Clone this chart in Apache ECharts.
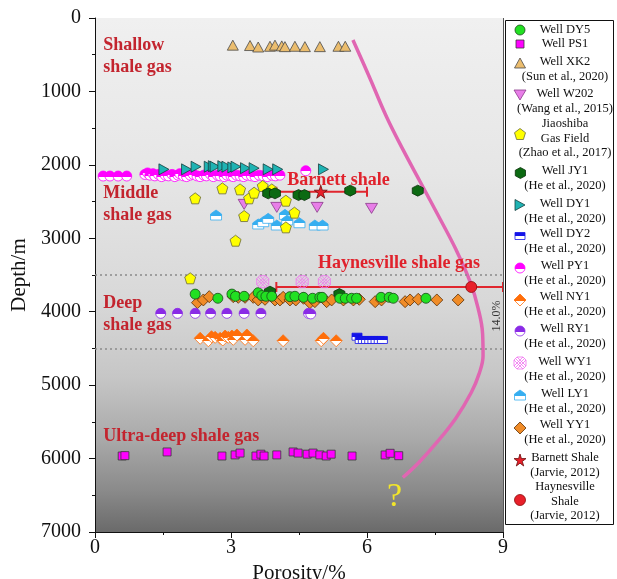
<!DOCTYPE html>
<html>
<head>
<meta charset="utf-8">
<script src="https://cdn.jsdelivr.net/npm/echarts@6.0.0/dist/echarts.min.js"></script>
<style>
  html, body { margin: 0; padding: 0; background: #ffffff; }
  #chart { width: 617px; height: 579px; }
</style>
</head>
<body>
<div id="chart"></div>
<script>
// ---- data: [porosity %, depth m] ----
const wellDY5 = [[2.21,3760],[2.71,3817],[3.02,3760],[3.10,3790],[3.29,3790],[3.60,3741],[3.68,3780],[3.77,3790],[3.90,3790],[4.30,3795],[4.41,3790],[4.60,3804],[4.80,3817],[4.96,3804],[5.01,3804],[5.40,3817],[5.52,3817],[5.66,3817],[5.77,3817],[6.31,3804],[6.49,3804],[6.58,3817],[7.30,3817]];
const wellPS1 = [[0.60,5965],[0.66,5960],[1.59,5910],[2.80,5965],[3.09,5950],[3.20,5925],[3.55,5965],[3.66,5940],[3.73,5965],[4.01,5950],[4.37,5910],[4.48,5925],[4.68,5940],[4.81,5925],[4.96,5950],[5.10,5965],[5.21,5940],[5.67,5965],[6.40,5951],[6.51,5928],[6.70,5961]];
const wellXK2 = [[3.04,370],[3.42,375],[3.60,395],[3.86,385],[3.97,370],[4.12,380],[4.19,390],[4.41,385],[4.63,390],[4.96,390],[5.37,385],[5.52,385]];
const wellW202 = [[3.29,2538],[4.01,2579],[4.90,2579],[6.10,2593]];
const jiaoshiba = [[2.21,2456],[2.81,2320],[3.20,2334],[3.40,2456],[3.51,2379],[3.70,2288],[3.90,2334],[4.21,2488],[4.40,2651],[3.29,2697],[4.21,2851],[3.10,3033],[2.10,3545]];
const wellJY1 = [[3.82,2388],[3.97,2388],[4.49,2411],[4.62,2411],[5.63,2351],[7.12,2351],[3.86,3727],[5.39,3760]];
const wellDY1 = [[1.52,2061],[2.02,2061],[2.23,2025],[2.52,2025],[2.61,2018],[2.65,2025],[2.82,2018],[2.91,2025],[3.04,2035],[3.11,2025],[3.32,2045],[3.51,2045],[3.82,2061],[4.03,2061],[5.04,2061]];
const wellDY2 = [[5.78,4340],[5.85,4385],[5.92,4385],[5.99,4385],[6.06,4385],[6.13,4385],[6.20,4385],[6.27,4385],[6.34,4385]];
const wellPY1 = [[0.18,2152],[0.33,2152],[0.51,2152],[0.70,2152],
  [1.10,2130],[1.16,2110],[1.21,2140],[1.28,2120],[1.32,2150],[1.40,2130],[1.47,2160],[1.55,2140],[1.62,2150],[1.70,2130],
  [1.76,2160],[1.83,2140],[1.87,2120],[1.95,2150],[2.02,2160],[2.10,2140],[2.17,2130],[2.25,2150],[2.32,2160],[2.40,2140],
  [2.46,2150],[2.55,2130],[2.61,2160],[2.70,2140],[2.76,2150],[2.85,2160],[2.91,2140],[3.00,2150],[3.05,2160],[3.12,2140],
  [3.20,2150],[3.28,2160],[3.35,2140],[3.45,2150],[3.53,2160],[3.62,2140],[3.71,2150],[3.80,2160],[3.90,2140],[3.98,2150],
  [4.08,2140],[4.65,2080]];
const wellNY1 = [[2.32,4362],[2.50,4395],[2.57,4340],[2.65,4349],[2.76,4362],[2.82,4385],[2.87,4331],[2.94,4349],[3.02,4331],[3.05,4376],[3.13,4317],[3.31,4376],[3.35,4317],[3.49,4395],[4.15,4395],[4.99,4395],[5.04,4362],[5.32,4395]];
const wellRY1 = [[1.45,4022],[1.82,4022],[2.21,4022],[2.55,4022],[2.91,4022],[3.29,4022],[3.66,4022],[4.71,4022],[4.76,4030]];
const wellWY1 = [[3.70,3591],[4.57,3591],[5.06,3591]];
const wellLY1 = [[2.67,2683],[3.60,2805],[3.71,2774],[3.82,2728],[4.01,2819],[4.19,2674],[4.24,2751],[4.51,2788],[4.85,2819],[5.02,2819]];
const wellYY1 = [[2.26,3877],[2.39,3840],[2.52,3795],[3.05,3795],[3.16,3804],[3.31,3804],[3.49,3804],[3.60,3840],[3.75,3831],[3.97,3840],[4.08,3840],[4.15,3804],[4.30,3840],[4.43,3840],[4.60,3817],[4.74,3877],[4.85,3863],[5.11,3863],[5.22,3840],[5.48,3840],[5.70,3840],[5.83,3831],[6.18,3863],[6.32,3840],[6.84,3863],[6.95,3840],[7.13,3831],[7.54,3840],[8.01,3840]];
// reference shales: [mean porosity, depth], with porosity range [low, high]
const barnettShale = [[4.98,2366]];
const barnettRange = [4.0, 6.0];
const haynesvilleShale = [[8.30,3663]];
const haynesvilleRange = [4.0, 14.0];
// porosity envelope with depth
const porosityTrend = [[5.69,300],[6.05,800],[6.43,1345],[6.80,1800],[7.19,2250],[7.58,2700],[7.96,3150],[8.28,3600],[8.45,3950],[8.55,4300],[8.56,4600],[8.47,4850],[8.30,5100],[7.96,5450],[7.54,5780],[7.15,6050],[6.79,6258]];
// depth boundaries between shale gas classes
const depthBoundaries = [3500, 4500];
const xTicks = [0, 9, 3];      // min, max, interval
const yTicks = [0, 7000, 1000];

const FONT = '"Liberation Serif","Times New Roman",serif';

// marker outlines as polygons in a small unit box
const SHAPE_PTS = {
  square:   [[0,0],[10,0],[10,10],[0,10]],
  triUp:    [[5,0],[10,9],[0,9]],
  triDown:  [[0,0],[10,0],[5,9]],
  triRight: [[0,0],[9,5],[0,10]],
  diamond:  [[5,0],[10,5],[5,10],[0,5]],
  pentagon: [[5,0],[10,3.63],[8.09,9.51],[1.91,9.51],[0,3.63]],
  hexagon:  [[5,0],[9.33,2.5],[9.33,7.5],[5,10],[0.67,7.5],[0.67,2.5]],
  house:    [[5,0],[10,4],[10,10],[0,10],[0,4]],
  star:     [[5,0],[6.18,3.62],[9.98,3.62],[6.9,5.86],[8.08,9.48],[5,7.24],[1.92,9.48],[3.1,5.86],[0.02,3.62],[3.82,3.62]],
  lattice:  [[3,0],[9,0],[12,3],[12,9],[9,12],[3,12],[0,9],[0,3]]
};
// hatch strokes inside the lattice marker
const LATTICE_LINES = [[[0,3],[9,12]],[[3,0],[12,9]],[[0,9],[9,0]],[[3,12],[12,3]],[[1.5,1.5],[10.5,10.5]],[[10.5,1.5],[1.5,10.5]]];

function symbolOf(shape) {
  if (shape === 'circle') return 'circle';
  let d = 'M' + SHAPE_PTS[shape].map(p => p.join(',')).join('L') + 'Z';
  if (shape === 'lattice') d += LATTICE_LINES.map(l => 'M' + l[0].join(',') + 'L' + l[1].join(',')).join('');
  return 'path://' + d;
}

// top coloured, bottom white
function halfFill(c) {
  return { type: 'linear', x: 0, y: 0, x2: 0, y2: 1,
    colorStops: [{offset: 0, color: c}, {offset: 0.55, color: c}, {offset: 0.55, color: '#ffffff'}, {offset: 1, color: '#ffffff'}] };
}

const WELLS = [
  {name: 'Well PS1',  data: wellPS1,  shape: 'square',   size: [8, 8],  fill: '#ff00ff', stroke: '#3a3a3a'},
  {name: 'Well XK2',  data: wellXK2,  shape: 'triUp',    size: [11, 10], fill: '#ebbd6e', stroke: '#4a4a4a'},
  {name: 'Well PY1',  data: wellPY1,  shape: 'circle',   size: [10, 10], fill: halfFill('#ff00ff'), stroke: '#ff00ff'},
  {name: 'Well W202', data: wellW202, shape: 'triDown',  size: [12, 10], fill: '#e87ee8', stroke: '#8a3a8a'},
  {name: 'Well LY1',  data: wellLY1,  shape: 'house',    size: [11, 10], fill: halfFill('#36aef0'), stroke: '#36aef0'},
  {name: 'Jiaoshiba Gas Field', data: jiaoshiba, shape: 'pentagon', size: [11, 11], fill: '#ffff00', stroke: '#6a6a3a'},
  {name: 'Well JY1',  data: wellJY1,  shape: 'hexagon',  size: [11, 11], fill: '#0c6a12', stroke: '#0a300a'},
  {name: 'Well DY1',  data: wellDY1,  shape: 'triRight', size: [10, 11], fill: '#1fb3b3', stroke: '#173f3f'},
  {name: 'Well YY1',  data: wellYY1,  shape: 'diamond',  size: [12, 12], fill: '#f08c28', stroke: '#5a3008'},
  {name: 'Well DY5',  data: wellDY5,  shape: 'circle',   size: [10, 10], fill: '#22e022', stroke: '#1a4a1a'},
  {name: 'Well RY1',  data: wellRY1,  shape: 'circle',   size: [10, 10], fill: halfFill('#8a2be6'), stroke: '#8a2be6'},
  {name: 'Well NY1',  data: wellNY1,  shape: 'diamond',  size: [12, 12], fill: halfFill('#ff6e0a'), stroke: '#ff6e0a'},
  {name: 'Well DY2',  data: wellDY2,  shape: 'square',   size: [10, 7],  fill: halfFill('#1414e8'), stroke: '#1414e8'},
  {name: 'Well WY1',  data: wellWY1,  shape: 'lattice',  size: [12, 12], fill: 'rgba(0,0,0,0)', stroke: '#f070f0'},
  {name: 'Barnett Shale', data: barnettShale, shape: 'star', size: [13, 13], fill: '#e8202a', stroke: '#6a0a0a'},
  {name: 'Haynesville Shale', data: haynesvilleShale, shape: 'circle', size: [11, 11], fill: '#e8202a', stroke: '#8a0a0a'}
];
const wellByName = {};
WELLS.forEach(w => { wellByName[w.name] = w; });

// legend rows: series, text lines, first line centre, icon centre
const legendRows = [
  ['Well DY5', ['Well DY5'], 30, 30],
  ['Well PS1', ['Well PS1'], 44, 44],
  ['Well XK2', ['Well XK2', '(Sun et al., 2020)'], 62, 63],
  ['Well W202', ['Well W202', '(Wang et al., 2015)'], 94, 95],
  ['Jiaoshiba Gas Field', ['Jiaoshiba', 'Gas Field', '(Zhao et al., 2017)'], 124, 134],
  ['Well JY1', ['Well JY1', '(He et al., 2020)'], 171, 173],
  ['Well DY1', ['Well DY1', '(He et al., 2020)'], 204, 205],
  ['Well DY2', ['Well DY2', '(He et al., 2020)'], 234, 236],
  ['Well PY1', ['Well PY1', '(He et al., 2020)'], 266, 268],
  ['Well NY1', ['Well NY1', '(He et al., 2020)'], 297, 300],
  ['Well RY1', ['Well RY1', '(He et al., 2020)'], 329, 331],
  ['Well WY1', ['Well WY1', '(He et al., 2020)'], 362, 363],
  ['Well LY1', ['Well LY1', '(He et al., 2020)'], 394, 395],
  ['Well YY1', ['Well YY1', '(He et al., 2020)'], 425, 428],
  ['Barnett Shale', ['Barnett Shale', '(Jarvie, 2012)'], 458, 460],
  ['Haynesville Shale', ['Haynesville', 'Shale', '(Jarvie, 2012)'], 487, 500]
];
const LEGEND_LINE = 14.6;

const chart = echarts.init(document.getElementById('chart'), null, {renderer: 'canvas'});

function errorBarItem(params, api) {
  const lo = api.value(0), hi = Math.min(api.value(1), xTicks[1]), y = api.value(2);
  const p1 = api.coord([lo, y]), p2 = api.coord([hi, y]);
  const cap = 5, st = {stroke: '#e0262e', lineWidth: 2};
  return {type: 'group', children: [
    {type: 'line', shape: {x1: p1[0], y1: p1[1], x2: p2[0], y2: p2[1]}, style: st},
    {type: 'line', shape: {x1: p1[0], y1: p1[1] - cap, x2: p1[0], y2: p1[1] + cap}, style: st},
    {type: 'line', shape: {x1: p2[0], y1: p2[1] - cap, x2: p2[0], y2: p2[1] + cap}, style: st}
  ]};
}

const series = [
  {
    type: 'line', name: 'trend', data: porosityTrend, smooth: 0.4, symbol: 'none',
    lineStyle: {color: '#e066b2', width: 3.5}, z: 1, silent: true,
    markLine: {
      silent: true, symbol: ['none', 'none'], label: {show: false},
      lineStyle: {color: '#8a8a8a', type: [2, 3], width: 1.5},
      data: depthBoundaries.map(d => ({yAxis: d}))
    }
  },
  {
    type: 'custom', name: 'ranges', renderItem: errorBarItem, z: 2, silent: true,
    data: [[barnettRange[0], barnettRange[1], barnettShale[0][1]],
           [haynesvilleRange[0], haynesvilleRange[1], haynesvilleShale[0][1]]]
  }
].concat(WELLS.map((w, i) => ({
  type: 'scatter', name: w.name, data: w.data,
  symbol: symbolOf(w.shape), symbolSize: w.size,
  itemStyle: {color: w.fill, borderColor: w.stroke, borderWidth: 0.8, opacity: 1},
  z: 3 + i, silent: true
})));

const option = {
  animation: false,
  backgroundColor: '#ffffff',
  grid: {
    left: 95, top: 18, right: 114, bottom: 47, show: true, borderWidth: 0,
    outerBoundsMode: 'none', containLabel: false,
    backgroundColor: {type: 'linear', x: 0, y: 0, x2: 0, y2: 1, colorStops: [
      {offset: 0, color: '#f0f0f0'}, {offset: 0.3, color: '#e6e6e6'}, {offset: 0.55, color: '#d8d8d8'},
      {offset: 0.7, color: '#c6c6c6'}, {offset: 0.82, color: '#a9a9a9'}, {offset: 0.92, color: '#8a8a8a'},
      {offset: 1, color: '#6a6a6a'}]}
  },
  xAxis: {
    type: 'value', min: xTicks[0], max: xTicks[1], interval: xTicks[2],
    name: 'Porosity/%', nameLocation: 'middle', nameGap: 26,
    nameTextStyle: {fontFamily: FONT, fontSize: 21, color: '#111'},
    axisLine: {show: true, onZero: false, lineStyle: {color: '#111', width: 1}},
    axisTick: {show: true, length: 6, lineStyle: {color: '#111'}},
    minorTick: {show: true, splitNumber: 2, length: 3, lineStyle: {color: '#111'}},
    axisLabel: {fontFamily: FONT, fontSize: 20, color: '#111', margin: 6, formatter: v => String(v)},
    splitLine: {show: false}
  },
  yAxis: {
    type: 'value', min: yTicks[0], max: yTicks[1], interval: yTicks[2], inverse: true,
    name: 'Depth/m', nameLocation: 'middle', nameGap: 60,
    nameTextStyle: {fontFamily: FONT, fontSize: 21, color: '#111'},
    axisLine: {show: true, onZero: false, lineStyle: {color: '#111', width: 1}},
    axisTick: {show: true, length: 6, lineStyle: {color: '#111'}},
    minorTick: {show: true, splitNumber: 2, length: 3, lineStyle: {color: '#111'}},
    axisLabel: {fontFamily: FONT, fontSize: 20, color: '#111', margin: 14, formatter: v => String(v)},
    splitLine: {show: false}
  },
  series: series
};
chart.setOption(option);

// ---- annotations and legend ----
const toPx = (x, y) => chart.convertToPixel({gridIndex: 0}, [x, y]);
const graphics = [];
const regionColor = '#c3242e';
const brightRed = '#e0222c';
function note(text, x, y, color, font, align) {
  const p = toPx(x, y);
  graphics.push({
    type: 'text', x: p[0], y: p[1], silent: true, z: 50,
    style: {text: text, fill: color, font: font, textAlign: align || 'left', textVerticalAlign: 'middle', lineHeight: 22}
  });
}
const boldFont = 'bold 18px ' + FONT;
note('Shallow\nshale gas', 0.18, 518, regionColor, boldFont);
note('Middle\nshale gas', 0.18, 2540, regionColor, boldFont);
note('Deep\nshale gas', 0.18, 4031, regionColor, boldFont);
note('Ultra-deep shale gas', 0.18, 5700, regionColor, boldFont);
note('Barnett shale', 4.24, 2215, brightRed, boldFont);
note('Haynesville shale gas', 4.92, 3337, brightRed, boldFont);
note('?', 6.61, 6530, '#f2e52a', '34px ' + FONT, 'center');
// cut-off label for the Haynesville range
(function () {
  const p = toPx(8.87, 4058);
  graphics.push({type: 'text', x: p[0], y: p[1], rotation: Math.PI / 2, silent: true, z: 50,
    style: {text: haynesvilleRange[1].toFixed(1) + '%', fill: '#333', font: '12px ' + FONT,
      textAlign: 'center', textVerticalAlign: 'middle'}});
})();

// right frame of the plot
(function () {
  const a = toPx(xTicks[1], yTicks[0]), b = toPx(xTicks[1], yTicks[1]);
  graphics.push({type: 'line', shape: {x1: a[0] + 0.5, y1: a[1], x2: b[0] + 0.5, y2: b[1]},
    style: {stroke: '#555', lineWidth: 1}, silent: true, z: 40});
})();

// legend box
graphics.push({type: 'rect', shape: {x: 505.5, y: 20.5, width: 108, height: 504},
  style: {fill: '#ffffff', stroke: '#111', lineWidth: 1}, silent: true, z: 60});

function legendIcon(w, cx, cy) {
  const iw = Math.min(w.size[0], 12), ih = Math.min(w.size[1], 12);
  const style = {fill: w.fill, stroke: w.stroke, lineWidth: 0.8};
  if (w.shape === 'circle') {
    graphics.push({type: 'circle', shape: {cx: cx, cy: cy, r: iw / 2}, style: style, silent: true, z: 61});
    return;
  }
  const pts = SHAPE_PTS[w.shape];
  let bw = 0, bh = 0;
  pts.forEach(p => { bw = Math.max(bw, p[0]); bh = Math.max(bh, p[1]); });
  const map = p => [cx - iw / 2 + p[0] / bw * iw, cy - ih / 2 + p[1] / bh * ih];
  graphics.push({type: 'polygon', shape: {points: pts.map(map)}, style: style, silent: true, z: 61});
  if (w.shape === 'lattice') {
    LATTICE_LINES.forEach(l => {
      graphics.push({type: 'polyline', shape: {points: l.map(map)},
        style: {stroke: w.stroke, lineWidth: 0.8, fill: null}, silent: true, z: 61});
    });
  }
}

legendRows.forEach(row => {
  legendIcon(wellByName[row[0]], 520, row[3]);
  row[1].forEach((line, k) => {
    graphics.push({type: 'text', x: 565, y: row[2] + k * LEGEND_LINE, silent: true, z: 61,
      style: {text: line, fill: '#111', font: '12.5px ' + FONT, textAlign: 'center', textVerticalAlign: 'middle'}});
  });
});

chart.setOption({graphic: {elements: graphics}});
</script>
</body>
</html>
